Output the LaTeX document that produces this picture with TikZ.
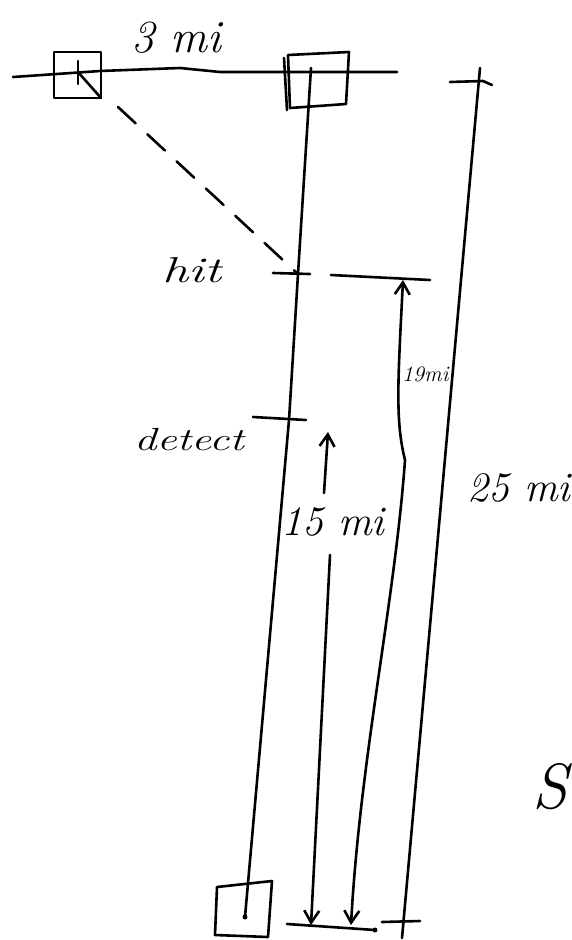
\documentclass[tikz,border=0pt]{standalone}
\usepackage{fontspec}
\usetikzlibrary{arrows.meta}
\begin{document}
\begin{tikzpicture}[x=1pt,y=-1pt,
  ink/.style={line width=2.6pt,black,line cap=round,line join=round},
  hand/.style={inner sep=0pt,font=\itshape},
  barb/.style={-{Straight Barb[length=12pt,width=15pt,line width=2.6pt]}},
  dbarb/.style={{Straight Barb[length=12pt,width=15pt,line width=2.6pt]}-{Straight Barb[length=12pt,width=15pt,line width=2.6pt]}}]
\useasboundingbox (0,0) rectangle (571,940);
% top baseline
\coordinate (tl) at (13,77);
\coordinate (tr) at (397,72);
\draw[ink] (tl) -- (100,71) -- (180,68) -- (220,72) -- (tr);
% left box (start)
\coordinate (lb1) at (54,52); \coordinate (lb2) at (101,52);
\coordinate (lb3) at (101,98); \coordinate (lb4) at (54,98);
\draw[ink] (lb1) -- (lb2) -- (lb3) -- (lb4) -- cycle;
\coordinate (lc) at (78,72);
\draw[ink] (78,61) -- (78,84);
\draw[ink] (lc) -- (lb3);
% right box (top)
\coordinate (rb1) at (288,55); \coordinate (rb2) at (349,52);
\coordinate (rb3) at (346,104); \coordinate (rb4) at (290,108);
\draw[ink] (rb1) -- (rb2) -- (rb3) -- (rb4) -- cycle;
\draw[ink] (284,58) -- (287,110);
% bottom box
\coordinate (bb1) at (217,887); \coordinate (bb2) at (272,881);
\coordinate (bb3) at (268,937); \coordinate (bb4) at (215,935);
\draw[ink] (bb1) -- (bb2) -- (bb3) -- (bb4) -- cycle;
% main path of target
\coordinate (ptop) at (311,68);
\coordinate (hit) at (298,274);
\coordinate (det) at (289,420);
\coordinate (pbot) at (245,917);
\draw[ink] (ptop) -- (hit) -- (det) -- (pbot);
\fill (pbot) circle (2.5pt);
% ticks
\draw[ink] (273,273) -- (310,274);
\draw[ink] (253,417) -- (306,420);
% dashed line of fire
\coordinate (fire) at (118,107);
\draw[ink,dash pattern=on 24pt off 16pt] (fire) -- (hit);
% labels
\node[hand,font=\itshape\fontsize{46}{50}\selectfont] (l3) at (176,38) {3 mi};
\node[hand,font=\itshape\fontsize{36}{40}\selectfont,xscale=1.45] (lhit) at (192,270) {hit};
\node[hand,font=\itshape\fontsize{32}{36}\selectfont,xscale=1.4] (ldet) at (189,440) {detect};
% line right of hit
\coordinate (hr1) at (331,275);
\coordinate (hr2) at (430,280);
\draw[ink] (hr1) -- (hr2);
% 19 mi dimension
\coordinate (a19t) at (403,280);
\coordinate (a19b) at (351,925);
\draw[ink,dbarb] (a19t) .. controls (398,380) and (395,420) .. (405,460) .. controls (395,600) and (360,760) .. (a19b);
\node[hand,font=\itshape\fontsize{22}{26}\selectfont,anchor=west] (l19) at (402,374) {19mi};
% 15 mi dimension
\coordinate (a15t) at (328,432);
\coordinate (a15m1) at (324,493);
\coordinate (a15m2) at (330,555);
\coordinate (a15b) at (311,925);
\draw[ink,barb] (a15m1) -- (a15t);
\draw[ink,barb] (a15m2) -- (a15b);
\node[hand,font=\itshape\fontsize{42}{46}\selectfont] (l15) at (333,522) {15 mi};
% bottom line
\coordinate (bl1) at (287,924);
\coordinate (bl2) at (375,930);
\draw[ink] (bl1) -- (bl2);
\fill (bl2) circle (2.5pt);
% right long line (25 mi)
\coordinate (rt) at (480,68);
\coordinate (rbm) at (402,938);
\draw[ink] (rt) -- (rbm);
\draw[ink] (450,82) -- (483,81) -- (492,85);
\draw[ink] (382,922) -- (420,921);
\node[hand,font=\itshape\fontsize{42}{46}\selectfont] (l25) at (519,488) {25 mi};
\node[hand,font=\itshape\fontsize{64}{68}\selectfont,anchor=west] (ls) at (532,787) {S};
\end{tikzpicture}
\end{document}
